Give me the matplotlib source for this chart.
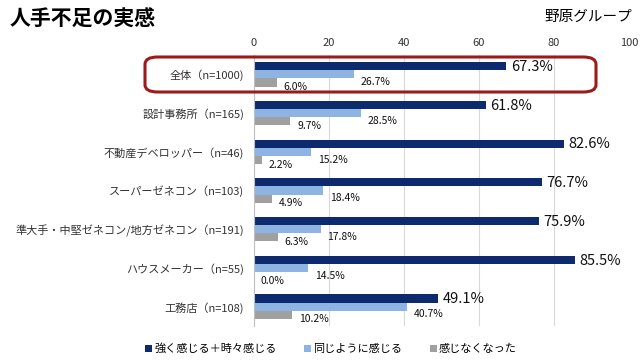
import numpy as np
import matplotlib.pyplot as plt
from matplotlib.patches import FancyBboxPatch

plt.rcParams['font.family'] = ['Noto Sans CJK JP', 'DejaVu Sans']

# data, top to bottom
cats = ['全体（n=1000)', '設計事務所（n=165)', '不動産デベロッパー（n=46)', 'スーパーゼネコン（n=103)',
        '準大手・中堅ゼネコン/地方ゼネコン（n=191)', 'ハウスメーカー（n=55)', '工務店（n=108)']
strong = [67.3, 61.8, 82.6, 76.7, 75.9, 85.5, 49.1]
same = [26.7, 28.5, 15.2, 18.4, 17.8, 14.5, 40.7]
none = [6.0, 9.7, 2.2, 4.9, 6.3, 0.0, 10.2]
series = ['強く感じる＋時々感じる', '同じように感じる', '感じなくなった']
colors = ['#0d2a6e', '#8db4e2', '#a0a0a0']

fig = plt.figure(figsize=(6.4, 3.6), dpi=100)
ax = fig.add_axes([254/640, 1-326/360, 375/640, 271/360])

y = np.arange(len(cats))
h = 0.21
ax.barh(y - h, strong, height=h, color=colors[0], label=series[0])
ax.barh(y, same, height=h, color=colors[1], label=series[1])
ax.barh(y + h, none, height=h, color=colors[2], label=series[2])

for i in range(len(cats)):
    ax.text(strong[i] + 1.2, y[i] - h + 0.02, f'{strong[i]:.1f}%', fontsize=10.5,
            va='center', ha='left', color='#111111')
    ax.text(same[i] + 1.8, y[i] + 0.2, f'{same[i]:.1f}%', fontsize=7.5,
            va='center', ha='left', color='#111111')
    ax.text(none[i] + 1.8, y[i] + 0.33, f'{none[i]:.1f}%', fontsize=7.5,
            va='center', ha='left', color='#111111')

ax.set_xlim(0, 100)
ax.set_ylim(len(cats) - 0.5, -0.5)
ax.set_xticks([0, 20, 40, 60, 80, 100])
ax.xaxis.tick_top()
ax.tick_params(axis='x', length=0, labelsize=8, pad=5, colors='#333333')
ax.set_yticks(y)
ax.set_yticklabels(cats, fontsize=8, color='#333333')
ax.tick_params(axis='y', length=0, pad=7)
ax.grid(axis='x', color='#d9d9d9', linewidth=0.8)
ax.set_axisbelow(True)
for s in ['top', 'right', 'bottom']:
    ax.spines[s].set_visible(False)
ax.spines['left'].set_color('#c0c0c0')

# highlight box around 全体
box = FancyBboxPatch((145/640, 1-92/360), 451/640, 35/360,
                     boxstyle='round,pad=0,rounding_size=0.02',
                     transform=fig.transFigure, fill=False,
                     edgecolor='#9b1b1b', linewidth=2.2, clip_on=False)
fig.patches.append(box)

fig.text(10/640, 1-19/360, '人手不足の実感', fontsize=15, fontweight='bold', va='center')
fig.text(632/640, 1-17/360, '野原グループ', fontsize=10.5, va='center', ha='right')

fig.legend(loc='center', bbox_to_anchor=(0.517, 1-349/360), ncol=3, frameon=False,
           fontsize=8, handlelength=0.6, handleheight=0.6, handletextpad=0.2,
           columnspacing=2.5)

fig.savefig('out.png', dpi=100)
